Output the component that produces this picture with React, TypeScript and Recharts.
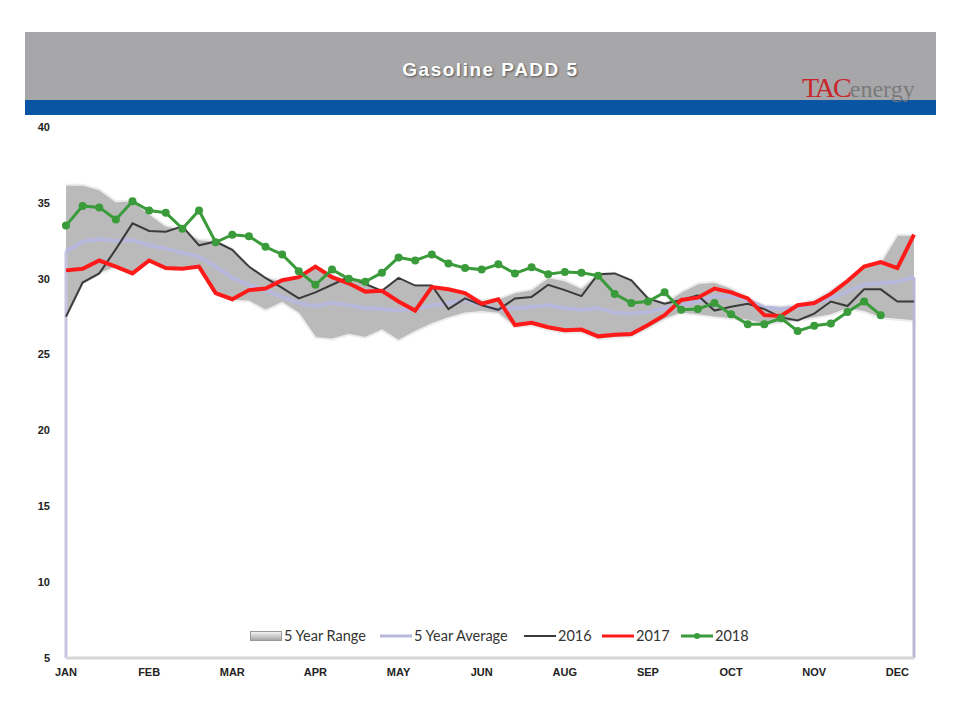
import React from 'react';
import { ComposedChart, Area, Line, XAxis, YAxis, ReferenceLine } from 'recharts';

// weekly points, Jan..Dec
const weeks = Array.from({ length: 52 }, (_, i) => i + 1);
const tickLabels = ['JAN', 'FEB', 'MAR', 'APR', 'MAY', 'JUN', 'AUG', 'SEP', 'OCT', 'NOV', 'DEC'];
const yTicks = [5, 10, 15, 20, 25, 30, 35, 40];

const rangeHigh = [
  36.2, 36.2, 35.9, 35.1, 35.15, 34.3, 33.5, 33.3, 32.6, 32.5,
  32.0, 30.8, 30.1, 29.9, 30.1, 30.8, 30.1, 30.1, 29.65, 29.2,
  30.05, 29.55, 29.55, 29.3, 29.05, 28.6, 28.7, 29.1, 29.3, 30.1,
  29.9, 29.4, 30.35, 30.4, 29.95, 28.8, 28.4, 29.15, 29.7, 29.8,
  29.4, 28.8, 28.25, 28.2, 28.3, 28.6, 29.25, 30.0, 30.8, 31.1,
  32.9, 32.9,
];
const rangeLow = [
  27.4, 29.7, 30.3, 30.75, 30.3, 31.1, 30.6, 30.6, 30.7, 28.95,
  28.55, 28.5, 27.9, 28.4, 27.7, 26.1, 26.0, 26.3, 26.1, 26.6,
  25.9, 26.5, 27.0, 27.4, 27.7, 27.8, 27.7, 26.8, 26.9, 26.6,
  26.4, 26.45, 26.0, 26.1, 26.15, 26.7, 27.3, 27.7, 27.6, 27.45,
  27.35, 27.25, 26.95, 27.1, 27.2, 27.4, 27.6, 28.0, 27.8, 27.4,
  27.3, 27.2,
];
const avg5 = [
  31.8, 32.45, 32.6, 32.5, 32.55, 32.2, 32.0, 31.7, 31.45, 30.8,
  30.05, 29.6, 29.25, 28.8, 28.4, 28.2, 28.4, 28.25, 28.05, 28.0,
  27.9, 28.0, 28.25, 28.4, 28.6, 28.3, 27.95, 28.05, 28.15, 28.25,
  28.05, 27.95, 28.05, 27.75, 27.7, 27.8, 28.05, 28.25, 28.5, 28.85,
  28.85, 28.6, 28.1, 28.0, 28.1, 28.4, 28.7, 29.15, 29.6, 29.7,
  29.8, 30.1,
];
const s2016 = [
  27.5, 29.75, 30.35, 31.95, 33.65, 33.15, 33.1, 33.45, 32.2, 32.45,
  31.9, 30.8, 30.05, 29.4, 28.7, 29.1, 29.6, 30.1, 29.65, 29.2,
  30.05, 29.55, 29.55, 28.0, 28.7, 28.25, 27.95, 28.7, 28.8, 29.6,
  29.25, 28.85, 30.3, 30.35, 29.9, 28.7, 28.35, 28.6, 28.9, 27.9,
  28.15, 28.35, 28.0, 27.45, 27.25, 27.7, 28.5, 28.2, 29.3, 29.3,
  28.5, 28.5,
];
const s2017 = [
  30.55, 30.65, 31.2, 30.8, 30.35, 31.2, 30.7, 30.65, 30.8, 29.05,
  28.65, 29.25, 29.35, 29.9, 30.1, 30.8, 30.1, 29.7, 29.15, 29.2,
  28.5, 27.9, 29.45, 29.3, 29.05, 28.35, 28.65, 26.95, 27.1, 26.8,
  26.6, 26.65, 26.2, 26.3, 26.35, 26.95, 27.6, 28.6, 28.75, 29.35,
  29.1, 28.7, 27.6, 27.55, 28.25, 28.4, 29.0, 29.85, 30.8, 31.1,
  30.7, 32.9,
];
const s2018 = [
  33.5, 34.8, 34.7, 33.9, 35.1, 34.5, 34.35, 33.3, 34.5, 32.4,
  32.9, 32.8, 32.1, 31.6, 30.5, 29.6, 30.6, 30.0, 29.8, 30.4,
  31.4, 31.2, 31.6, 31.0, 30.7, 30.6, 30.95, 30.35, 30.75, 30.3,
  30.45, 30.4, 30.2, 29.0, 28.4, 28.5, 29.1, 27.95, 28.0, 28.4,
  27.65, 27.0, 27.0, 27.4, 26.55, 26.9, 27.05, 27.8, 28.5, 27.6,
];

const data = weeks.map((w, i) => ({
  week: w,
  range: [rangeLow[i], rangeHigh[i]],
  avg: avg5[i],
  y2016: s2016[i],
  y2017: s2017[i],
  y2018: i < s2018.length ? s2018[i] : null,
}));

const labelFont = { fontFamily: 'Liberation Sans, Arial, sans-serif', fontSize: 11, fontWeight: 700, fill: '#222' };

const LegendBar = () => {
  const item = (icon: React.ReactNode, text: string, w: number) => (
    <div style={{ display: 'flex', alignItems: 'center', width: w }}>
      {icon}
      <span style={{ marginLeft: 2 }}>{text}</span>
    </div>
  );
  const line = (color: string, h: number, dot = false) => (
    <svg width={32} height={10}>
      <line x1={0} x2={32} y1={5} y2={5} stroke={color} strokeWidth={h} />
      {dot && <circle cx={16} cy={5} r={3} fill={color} />}
    </svg>
  );
  return (
    <div style={{
      position: 'absolute', left: 250, top: 627, display: 'flex', alignItems: 'center',
      fontFamily: 'Lato, "Open Sans", sans-serif', fontSize: 14.5, color: '#333',
    }}>
      {item(<div style={{ width: 30, height: 8, background: 'linear-gradient(#f2f2f2, #a8a8a8)', border: '1px solid #999' }} />, '5 Year Range', 130)}
      {item(line('#b8b8dc', 3), '5 Year Average', 144)}
      {item(line('#3a3a3a', 2), '2016', 78)}
      {item(line('#ff1a1a', 3), '2017', 79)}
      {item(line('#3a9b3a', 3, true), '2018', 70)}
    </div>
  );
};

const App = () => {
  return (
    <div style={{ position: 'absolute', left: 0, top: 0, width: 960, height: 720, background: '#fff' }}>
      <div style={{ position: 'absolute', left: 25, top: 32, width: 911, height: 68, background: '#a7a7a9' }} />
      <div style={{ position: 'absolute', left: 25, top: 100, width: 911, height: 15, background: '#0a55a3' }} />
      <div style={{
        position: 'absolute', left: 25, top: 59, width: 931, textAlign: 'center',
        fontFamily: 'Liberation Sans, Arial, sans-serif', fontSize: 19, fontWeight: 700, letterSpacing: 1.5,
        color: '#fff', textShadow: '1px 1px 2px #555',
      }}>
        Gasoline PADD 5
      </div>
      <div style={{ position: 'absolute', left: 802, top: 72, fontFamily: 'Liberation Serif, serif', whiteSpace: 'nowrap' }}>
        <span style={{ color: '#c9252c', fontSize: 28, letterSpacing: -2 }}>TAC</span>
        <span style={{ color: '#7a7a7a', fontSize: 24 }}>energy</span>
      </div>
      <ComposedChart
        width={960}
        height={720}
        data={data}
        margin={{ top: 127, right: 46, bottom: 32, left: 26 }}
        style={{ position: 'absolute', left: 0, top: 0 }}
      >
        <XAxis
          dataKey="week"
          type="category"
          interval={4}
          tickSize={0}
          tickMargin={10}
          height={30}
          axisLine={{ stroke: '#d6d6d6', strokeWidth: 3 }}
          tick={labelFont}
          tickFormatter={(v: number) => tickLabels[(v - 1) / 5] ?? ''}
        />
        <YAxis
          type="number"
          domain={[5, 40]}
          ticks={yTicks}
          width={40}
          axisLine={false}
          tickLine={false}
          tickSize={0}
          tickMargin={16}
          tick={labelFont}
        />
        <Area
          dataKey="range"
          type="linear"
          fill="#bbbaba"
          fillOpacity={1}
          stroke="#ececec"
          strokeWidth={2}
          isAnimationActive={false}
        />
        <ReferenceLine
          segment={[{ x: weeks[0], y: avg5[0] }, { x: weeks[0], y: 5 }]}
          stroke="#c4c4e0"
          strokeWidth={3}
          ifOverflow="visible"
        />
        <ReferenceLine
          segment={[{ x: weeks[weeks.length - 1], y: avg5[avg5.length - 1] }, { x: weeks[weeks.length - 1], y: 5 }]}
          stroke="#b8b8d6"
          strokeWidth={3}
          ifOverflow="visible"
        />
        <Line dataKey="avg" type="linear" stroke="#b8b8dc" strokeWidth={4} dot={false} isAnimationActive={false} />
        <Line dataKey="y2016" type="linear" stroke="#3a3a3a" strokeWidth={2} dot={false} isAnimationActive={false} />
        <Line dataKey="y2017" type="linear" stroke="#ff1a1a" strokeWidth={4} dot={false} isAnimationActive={false} />
        <Line
          dataKey="y2018"
          type="linear"
          stroke="#3a9b3a"
          strokeWidth={3}
          dot={{ r: 4, fill: '#3a9b3a', stroke: 'none' }}
          isAnimationActive={false}
        />
      </ComposedChart>
      <LegendBar />
    </div>
  );
};

export default App;
